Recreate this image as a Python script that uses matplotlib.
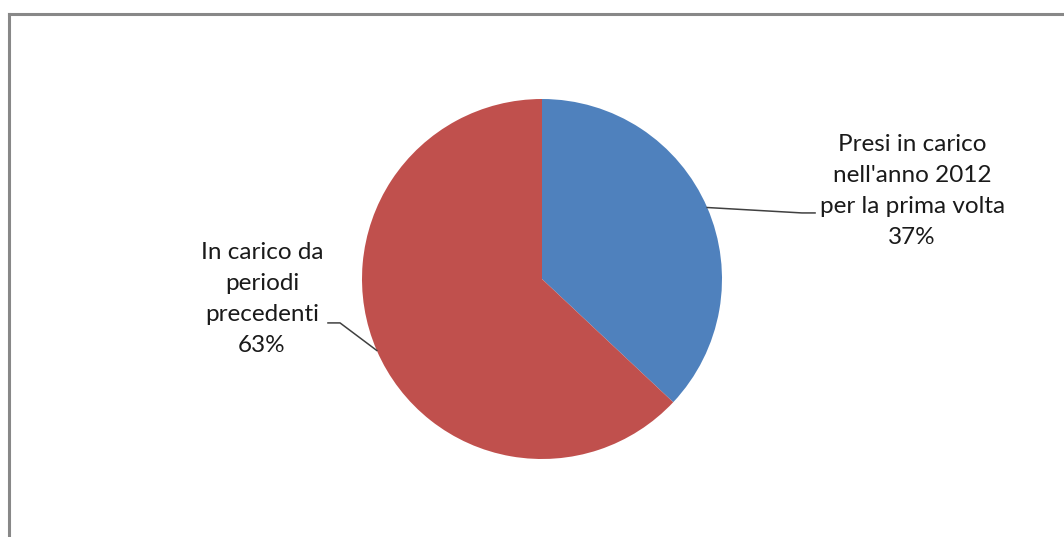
import numpy as np
import matplotlib
matplotlib.use("Agg")
import matplotlib.pyplot as plt
from matplotlib.lines import Line2D

labels = ["Presi in carico\nnell'anno 2012\nper la prima volta", "In carico da\nperiodi\nprecedenti"]
values = [37, 63]
colors = ["#4F81BD", "#C0504D"]

W, H = 1064, 537
fig = plt.figure(figsize=(W / 100, H / 100), dpi=100)

# grey frame (right and bottom fall outside the picture)
fig.add_artist(Line2D([9 / W, 9 / W], [0, 1 - 14 / H], color="#888888", lw=2.2))
fig.add_artist(Line2D([9 / W, 1], [1 - 14 / H, 1 - 14 / H], color="#888888", lw=2.2))

cx, cy, r = 542, 279, 180
ax = fig.add_axes([(cx - r) / W, (H - cy - r) / H, 2 * r / W, 2 * r / H])
wedges, _ = ax.pie(values, colors=colors, startangle=90, counterclock=False,
                   radius=1, wedgeprops=dict(linewidth=0))
ax.set_xlim(-1, 1)
ax.set_ylim(-1, 1)
ax.set_aspect("equal")
ax.axis("off")

total = sum(values)
# text centre, elbow, end of leader (axes data units)
text_pos = [(2.056, 0.489), (-1.556, -0.111)]
elbows = [((1.444, 0.367), (1.517, 0.367)), ((-1.122, -0.244), (-1.189, -0.244))]

for w, lab, v, tp, (e1, e2) in zip(wedges, labels, values, text_pos, elbows):
    ang = np.deg2rad((w.theta1 + w.theta2) / 2)
    px, py = np.cos(ang), np.sin(ang)
    ax.plot([px, e1[0], e2[0]], [py, e1[1], e2[1]], color="#404040", lw=1.1,
            clip_on=False)
    ax.text(tp[0], tp[1], "%s\n%d%%" % (lab, round(100 * v / total)),
            ha="center", va="center", fontsize=17.5, family="Lato",
            color="#1a1a1a", linespacing=1.6, clip_on=False)

fig.savefig("out.png", dpi=100, facecolor="white")
